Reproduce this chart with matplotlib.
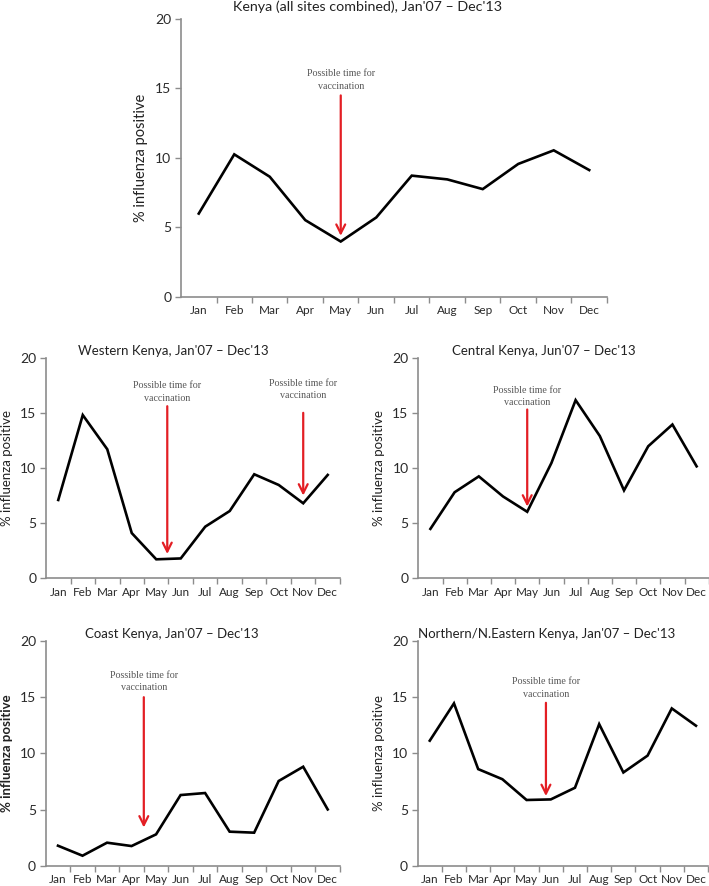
import matplotlib.pyplot as plt

plt.rcParams['font.family'] = ['Lato', 'DejaVu Sans']

months = ['Jan', 'Feb', 'Mar', 'Apr', 'May', 'Jun',
          'Jul', 'Aug', 'Sep', 'Oct', 'Nov', 'Dec']

# % influenza positive by month
kenya_all = [6.0, 10.26, 8.65, 5.53, 3.99, 5.72, 8.73, 8.46, 7.76, 9.57, 10.55, 9.13]
western = [7.1, 14.8, 11.7, 4.1, 1.72, 1.8, 4.68, 6.1, 9.43, 8.46, 6.8, 9.37]
central = [4.48, 7.8, 9.24, 7.42, 6.03, 10.45, 16.15, 12.9, 7.97, 11.97, 13.94, 10.15]
coast = [1.78, 0.89, 2.05, 1.75, 2.79, 6.29, 6.47, 3.03, 2.94, 7.54, 8.81, 5.01]
northern = [11.13, 14.45, 8.6, 7.7, 5.85, 5.9, 6.94, 12.6, 8.3, 9.8, 14.0, 12.46]

# arrows: (month position, arrow top, arrow tip, text centre y)
arrows_all = [(4.0, 14.5, 4.4, 15.6)]
arrows_western = [(4.45, 15.6, 2.2, 16.9), (10.0, 15.0, 7.5, 17.1)]
arrows_central = [(4.0, 15.3, 6.5, 16.5)]
arrows_coast = [(3.5, 15.0, 3.4, 16.4)]
arrows_northern = [(4.8, 14.5, 6.2, 15.8)]

AXIS_GREY = '#8c8c8c'
ARROW_RED = '#e31e24'


def panel(fig, rect, title, values, arrows, title_x, title_ha='center',
          ylabel_size=9.5, bold_ylabel=False, title_pad=2, title_size=9.5):
    ax = fig.add_axes(rect)
    x = list(range(len(months)))
    ax.plot(x, values, color='black', lw=1.9, solid_joinstyle='miter')
    ax.set_xlim(-0.5, 11.5)
    ax.set_ylim(0, 20)
    ax.set_yticks([0, 5, 10, 15, 20])
    ax.set_xticks([i + 0.5 for i in range(12)])
    ax.set_xticklabels([])
    ax.set_xticks(x, minor=True)
    ax.set_xticklabels(months, minor=True, fontsize=8.5, color='#2a2a2a')
    ax.tick_params(axis='x', which='minor', length=0, pad=6)
    ax.tick_params(axis='x', which='major', length=4, color=AXIS_GREY, width=1)
    ax.tick_params(axis='y', length=4, color=AXIS_GREY, width=1,
                   labelsize=10, labelcolor='#2a2a2a', pad=3)
    for s in ['top', 'right']:
        ax.spines[s].set_visible(False)
    for s in ['left', 'bottom']:
        ax.spines[s].set_color(AXIS_GREY)
        ax.spines[s].set_linewidth(1.2)
    ax.set_ylabel('% influenza positive', fontsize=ylabel_size, color='#222222',
                  fontweight='bold' if bold_ylabel else 'normal', labelpad=5)
    ax.set_title(title, fontsize=title_size, color='#222222', pad=title_pad,
                 x=title_x, loc=title_ha)
    for xa, ytop, ytip, ytext in arrows:
        ax.annotate('', xy=(xa, ytip), xytext=(xa, ytop),
                    arrowprops=dict(arrowstyle='->', color=ARROW_RED, lw=1.6,
                                    mutation_scale=16, shrinkA=0, shrinkB=0))
        ax.text(xa, ytext, 'Possible time for\nvaccination', ha='center', va='center',
                family='Liberation Serif', fontsize=7.2, color='#555555', linespacing=1.5)
    return ax


fig = plt.figure(figsize=(7.09, 8.86), dpi=100)

panel(fig, [0.2553, 0.6648, 0.6008, 0.3138],
      "Kenya (all sites combined), Jan'07 \u2013 Dec'13", kenya_all, arrows_all,
      title_x=0.438, ylabel_size=10.5, title_pad=6, title_size=10.3)
panel(fig, [0.0649, 0.3473, 0.4146, 0.249],
      "Western Kenya, Jan'07 \u2013 Dec'13", western, arrows_western, title_x=0.432)
panel(fig, [0.590, 0.3473, 0.4096, 0.249],
      "Central Kenya, Jun'07 \u2013 Dec'13", central, arrows_central, title_x=0.432)
panel(fig, [0.0645, 0.0229, 0.415, 0.2536],
      "Coast Kenya, Jan'07 \u2013 Dec'13", coast, arrows_coast, title_x=0.428,
      bold_ylabel=True)
panel(fig, [0.5891, 0.0229, 0.4096, 0.2536],
      "Northern/N.Eastern Kenya, Jan'07 \u2013 Dec'13", northern, arrows_northern,
      title_x=0.0, title_ha='left')

fig.savefig('out.png', dpi=100)
